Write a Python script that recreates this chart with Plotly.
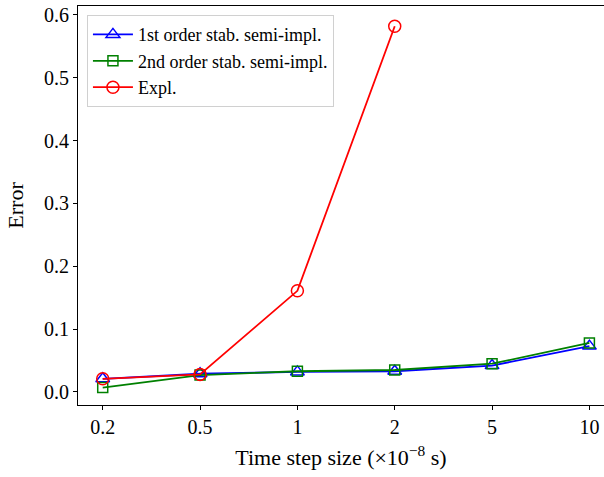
import plotly.graph_objects as go

steps = ["0.2", "0.5", "1", "2", "5", "10"]
first_order = [0.021, 0.029, 0.032, 0.033, 0.042, 0.073]
second_order = [0.007, 0.027, 0.033, 0.035, 0.045, 0.078]
explicit = [0.021, 0.028, 0.161, 0.582]

FONT = "'Liberation Serif', 'Times New Roman', serif"

fig = go.Figure()
fig.add_trace(go.Scatter(
    x=steps, y=first_order, mode="lines+markers", name="1st order stab. semi-impl.",
    line=dict(color="#0000ff", width=1.8),
    marker=dict(symbol="triangle-up-open", size=12, color="#0000ff", line=dict(width=1.5))))
fig.add_trace(go.Scatter(
    x=steps, y=second_order, mode="lines+markers", name="2nd order stab. semi-impl.",
    line=dict(color="#008000", width=1.8),
    marker=dict(symbol="square-open", size=10, color="#008000", line=dict(width=1.5))))
fig.add_trace(go.Scatter(
    x=steps[:len(explicit)], y=explicit, mode="lines+markers", name="Expl.",
    line=dict(color="#ff0000", width=1.8),
    marker=dict(symbol="circle-open", size=12, color="#ff0000", line=dict(width=1.5))))

fig.update_layout(
    width=604, height=477,
    margin=dict(l=78, r=0, t=6, b=72),
    paper_bgcolor="white", plot_bgcolor="white",
    font=dict(family=FONT, size=20, color="black"),
    legend=dict(
        x=0.017, y=0.977, xanchor="left", yanchor="top",
        bgcolor="rgba(255,255,255,0.8)", bordercolor="#d0d0d0", borderwidth=1,
        font=dict(family=FONT, size=18), tracegroupgap=0, itemwidth=40),
)
fig.update_xaxes(
    type="category", categoryorder="array", categoryarray=steps,
    range=[-0.254, 5.15],
    showline=True, linecolor="black", linewidth=1.2, mirror=True,
    ticks="outside", ticklen=4, tickcolor="black", showgrid=False, zeroline=False,
    tickfont=dict(family=FONT, size=20),
    title=dict(text="Time step size (×10<sup>−8</sup> s)", font=dict(family=FONT, size=22), standoff=12),
)
fig.update_yaxes(
    range=[-0.0207, 0.6143], tickvals=[0, 0.1, 0.2, 0.3, 0.4, 0.5, 0.6],
    ticktext=["0.0", "0.1", "0.2", "0.3", "0.4", "0.5", "0.6"],
    showline=True, linecolor="black", linewidth=1.2, mirror=False,
    ticks="outside", ticklen=4, tickcolor="black", showgrid=False, zeroline=False,
    tickfont=dict(family=FONT, size=20),
    title=dict(text="Error", font=dict(family=FONT, size=22), standoff=14),
)

fig.write_html("out.html")
